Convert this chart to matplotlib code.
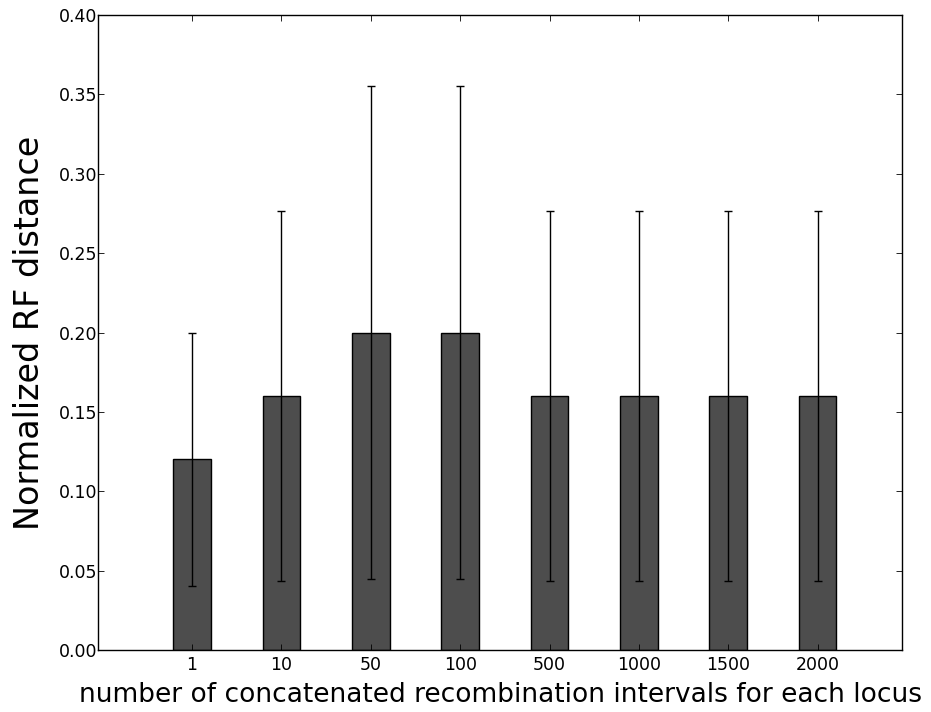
#!/usr/bin/env python3
import numpy as np
import matplotlib
matplotlib.use('Agg')
import matplotlib.pyplot as plt

labels = ['1', '10', '50', '100', '500', '1000', '1500', '2000']
means = [0.12, 0.16, 0.20, 0.20, 0.16, 0.16, 0.16, 0.16]
errors = [0.080, 0.1165, 0.155, 0.155, 0.1165, 0.1165, 0.1165, 0.1165]

fig = plt.figure(figsize=(9.31, 7.12), dpi=100)
ax = fig.add_axes([0.1053, 0.0871, 0.8636, 0.8918])

ind = np.arange(len(labels))
ax.bar(ind, means, 0.42, color='0.3', edgecolor='black', linewidth=1,
       yerr=errors, error_kw=dict(ecolor='black', elinewidth=1, capsize=3, capthick=1))

ax.set_xticks(ind)
ax.set_xticklabels(labels)
ax.set_xlim(-1.053, 7.945)
ax.set_ylim(0, 0.40)
ax.set_yticks(np.arange(0, 0.401, 0.05))
ax.set_yticklabels(['%.2f' % v for v in np.arange(0, 0.401, 0.05)])

ax.tick_params(direction='in', top=True, right=True, length=4, width=0.6, labelsize=12.5)
ax.tick_params(axis='y', pad=0.5)
ax.tick_params(axis='x', pad=4)
for s in ax.spines.values():
    s.set_linewidth(1)

ax.set_ylabel('Normalized RF distance', fontsize=24, labelpad=9)
ax.set_xlabel('number of concatenated recombination intervals for each locus', fontsize=19, labelpad=6)

fig.savefig('out.png', dpi=100)
